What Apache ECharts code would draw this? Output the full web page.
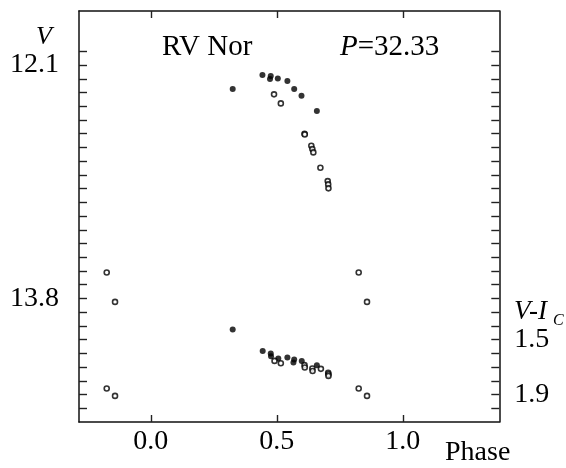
<!DOCTYPE html>
<html>
<head>
<meta charset="utf-8">
<script src="https://cdn.jsdelivr.net/npm/echarts@6/dist/echarts.min.js"></script>
<style>html,body{margin:0;padding:0;background:#fff;}#c{width:566px;height:468px;}</style>
</head>
<body>
<div id="c"></div>
<script>
// ---- data ----
var phaseLabels = [0.0, 0.5, 1.0];
var vLabels = [12.1, 13.8];
var viLabels = [1.5, 1.9];

// V magnitudes, filled dots [phase, V]
var vFilled = [
  [0.325, 12.275], [0.443, 12.172], [0.476, 12.180], [0.473, 12.202],
  [0.504, 12.197], [0.542, 12.216], [0.569, 12.275], [0.598, 12.323],
  [0.659, 12.435]
];
// V magnitudes, open circles [phase, V]
var vOpen = [
  [0.489, 12.313], [0.516, 12.379], [0.610, 12.600], [0.611, 12.606],
  [0.637, 12.688], [0.641, 12.712], [0.645, 12.736], [0.673, 12.848],
  [0.702, 12.945], [0.704, 12.969], [0.705, 12.998],
  [0.825, 13.611], [0.858, 13.825], [-0.175, 13.611], [-0.142, 13.825]
];
// V-Ic colour, filled dots [phase, V-Ic]
var viFilled = [
  [0.325, 1.426], [0.444, 1.582], [0.476, 1.601], [0.477, 1.621],
  [0.506, 1.638], [0.542, 1.630], [0.569, 1.645], [0.566, 1.667],
  [0.599, 1.655], [0.659, 1.686]
];
// V-Ic colour, open circles [phase, V-Ic]
var viOpen = [
  [0.491, 1.655], [0.516, 1.672], [0.610, 1.686], [0.611, 1.703],
  [0.641, 1.710], [0.642, 1.728], [0.675, 1.713],
  [0.704, 1.742], [0.705, 1.752], [0.705, 1.764],
  [0.825, 1.856], [0.858, 1.910], [-0.175, 1.856], [-0.142, 1.910]
];

// ---- chart ----
var FONT = 'Liberation Serif';
function range(a, b, s) { var r = []; for (var k = 0; a + k * s <= b + 1e-9; k++) r.push(+(a + k * s).toFixed(2)); return r; }
var vTicks = range(12.0, 14.6, 0.1);
var viTicks = range(-0.6, 2.0, 0.1);

var lineStyle = { color: '#111', width: 1.5 };
var tickStyle = { color: '#222', width: 1.4 };
var labelBase = { fontFamily: FONT, fontSize: 28, color: '#000' };

var chart = echarts.init(document.getElementById('c'), null, { renderer: 'canvas' });
chart.setOption({
  animation: false,
  backgroundColor: '#fff',
  grid: { left: 79, top: 11, right: 66.7, bottom: 46, containLabel: false },
  xAxis: [{
    type: 'value', position: 'bottom', min: -0.285, max: 1.383,
    axisLine: { show: true, onZero: false, lineStyle: lineStyle },
    axisTick: { show: true, inside: true, length: 7, lineStyle: tickStyle, customValues: phaseLabels },
    axisLabel: Object.assign({ show: true, margin: 6, customValues: phaseLabels,
      formatter: function (v) { return v.toFixed(1); } }, labelBase),
    splitLine: { show: false }
  }, {
    type: 'value', position: 'top', min: -0.285, max: 1.383,
    axisLine: { show: true, onZero: false, lineStyle: lineStyle },
    axisTick: { show: true, inside: true, length: 7, lineStyle: tickStyle, customValues: phaseLabels },
    axisLabel: { show: false },
    splitLine: { show: false }
  }],
  yAxis: [{
    type: 'value', position: 'left', inverse: true, min: 11.706, max: 14.70,
    axisLine: { show: true, onZero: false, lineStyle: lineStyle },
    axisTick: { show: true, inside: true, length: 8, lineStyle: tickStyle, customValues: vTicks },
    axisLabel: Object.assign({ show: true, margin: 20, customValues: vLabels,
      formatter: function (v) { return v.toFixed(1); } }, labelBase),
    splitLine: { show: false }
  }, {
    type: 'value', position: 'right', inverse: true, min: -0.894, max: 2.1,
    axisLine: { show: true, onZero: false, lineStyle: lineStyle },
    axisTick: { show: true, inside: true, length: 8, lineStyle: tickStyle, customValues: viTicks },
    axisLabel: Object.assign({ show: true, margin: 15, customValues: viLabels,
      formatter: function (v) { return v.toFixed(1); } }, labelBase),
    splitLine: { show: false }
  }],
  series: [{
    type: 'scatter', xAxisIndex: 0, yAxisIndex: 0, data: vFilled,
    symbol: 'circle', symbolSize: 6, itemStyle: { color: '#000' }
  }, {
    type: 'scatter', xAxisIndex: 0, yAxisIndex: 0, data: vOpen,
    symbol: 'circle', symbolSize: 5, itemStyle: { color: '#fff', borderColor: '#000', borderWidth: 1.6 }
  }, {
    type: 'scatter', xAxisIndex: 0, yAxisIndex: 1, data: viFilled,
    symbol: 'circle', symbolSize: 6, itemStyle: { color: '#000' }
  }, {
    type: 'scatter', xAxisIndex: 0, yAxisIndex: 1, data: viOpen,
    symbol: 'circle', symbolSize: 5, itemStyle: { color: '#fff', borderColor: '#000', borderWidth: 1.6 }
  }],
  graphic: [
    { type: 'text', left: 36, top: 24, style: { text: 'V', font: 'italic 26px ' + FONT, fill: '#000' } },
    { type: 'text', left: 162, top: 33, style: { text: 'RV Nor', font: '29px ' + FONT, fill: '#000' } },
    { type: 'text', left: 340, top: 33, style: {
        text: '{i|P}{n|=32.33}',
        rich: { i: { fontFamily: FONT, fontStyle: 'italic', fontSize: 29, fill: '#000' },
                n: { fontFamily: FONT, fontSize: 29, fill: '#000' } } } },
    { type: 'text', left: 514, top: 298, style: { text: 'V-I', font: 'italic 27px ' + FONT, fill: '#000' } },
    { type: 'text', left: 553, top: 313, style: { text: 'C', font: 'italic 16px ' + FONT, fill: '#000' } },
    { type: 'text', left: 445, top: 439, style: { text: 'Phase', font: '28px ' + FONT, fill: '#000' } }
  ]
});
</script>
</body>
</html>
